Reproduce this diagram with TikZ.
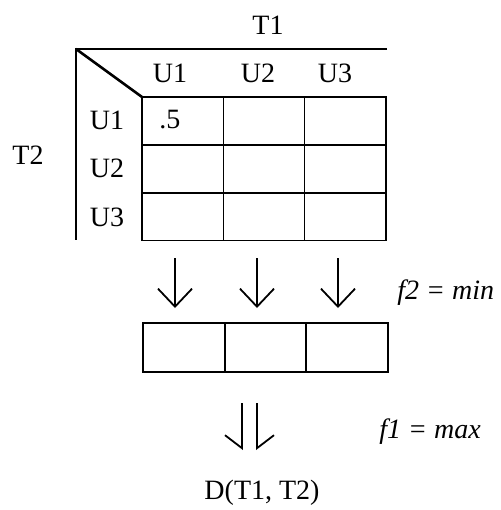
\documentclass[tikz,border=0pt]{standalone}
\usepackage{fontspec}
\setmainfont{Liberation Serif}
\usetikzlibrary{arrows.meta, positioning}

\begin{document}
\begin{tikzpicture}[
  x=0.5pt, y=-0.5pt,
  font=\fontsize{14}{16}\selectfont,
  lbl/.style={inner sep=0pt},
  cell/.style={draw, line width=0.75pt, minimum width=40.7pt, minimum height=24pt, inner sep=0pt, outer sep=0pt},
  box/.style={draw, line width=0.85pt, minimum width=40.8pt, minimum height=24.5pt, inner sep=0pt, outer sep=0pt},
  e/.style={-{Straight Barb[length=9pt, width=17pt]}, line width=0.9pt},
  hl/.style={-{Straight Barb[length=6.5pt, width=17pt, harpoon, swap]}, line width=0.9pt},
  hr/.style={-{Straight Barb[length=6.5pt, width=17pt, harpoon]}, line width=0.9pt}]
  \useasboundingbox (0,0) rectangle (501,510);

  % corner of the table
  \coordinate (corner) at (76,49);
  \coordinate (topend) at (387,49);
  \coordinate (leftend) at (76,240);
  \coordinate (inner) at (142,97);
  \draw[line width=1pt] (topend) -- (corner) -- (leftend);
  \draw[line width=1.3pt] (corner) -- (inner);

  % 3x3 table of cells
  \foreach \i/\y in {1/121, 2/169, 3/216.5}
    \foreach \j/\x in {1/182.7, 2/264, 3/345.3}
      \node[cell] (c\i\j) at (\x,\y) {};

  \node[lbl] (t1) at (268,25) {T1};
  \node[lbl] (t2) at (28,155) {T2};
  \node[lbl] (h1) at (170,73) {U1};
  \node[lbl] (h2) at (258,73) {U2};
  \node[lbl] (h3) at (335,73) {U3};
  \node[lbl] (r1) at (107,120) {U1};
  \node[lbl] (r2) at (107,168) {U2};
  \node[lbl] (r3) at (107,217) {U3};
  \node[lbl, anchor=west] (v11) at (159,120) {.5};

  % min over each column
  \foreach \k/\x in {1/175, 2/257, 3/338} {
    \coordinate (s\k) at (\x,258);
    \coordinate (e\k) at (\x,308);
    \draw[e] (s\k) -- (e\k);
  }
  \node[lbl, anchor=west] (f2) at (397,293) {\textit{f2 = min}};

  \foreach \k/\x in {1/184, 2/265.5, 3/347}
    \node[box] (m\k) at (\x,347.5) {};

  % max over the row
  \coordinate (ds1) at (242,403);
  \coordinate (de1) at (242,450);
  \coordinate (ds2) at (257,403);
  \coordinate (de2) at (257,450);
  \draw[hl] (ds1) -- (de1);
  \draw[hr] (ds2) -- (de2);
  \node[lbl, anchor=west] (f1) at (379,432) {\textit{f1 = max}};

  \node[lbl] (d) at (262,493) {D(T1, T2)};
\end{tikzpicture}
\end{document}
